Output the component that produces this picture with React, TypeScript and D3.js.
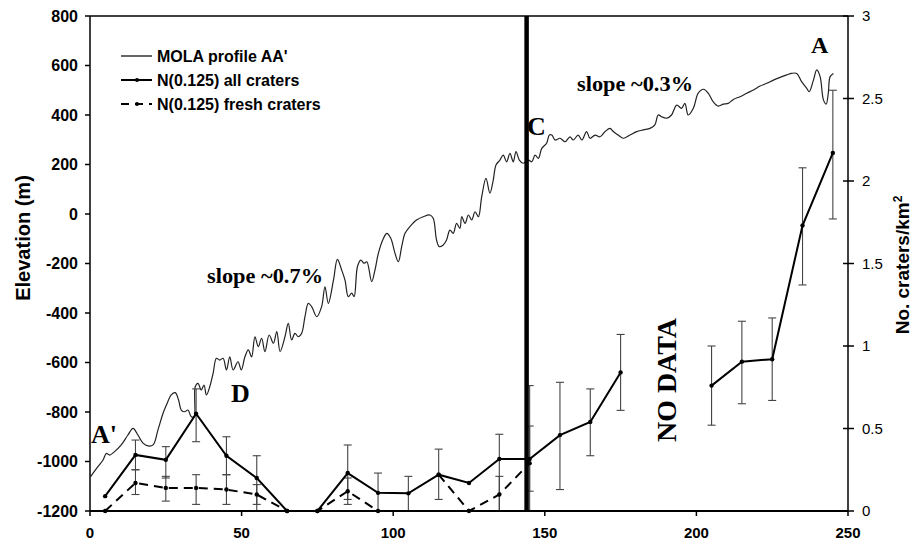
import React from 'react';
import * as d3 from 'd3';

// MOLA elevation profile AA' (distance km, elevation m)
const profileKm: number[] = [
  0.2, 2.6, 4.3, 5.4, 6.5, 8.1, 10.3, 12.5, 14.2, 15.8, 17.5, 19.1, 20.8, 22.4, 24.1, 25.2,
  26.8, 28.1, 29.2, 30.1, 31.2, 32.3, 33.4, 34.3, 34.7, 35.6, 36.7, 37.6, 38.4, 39.5, 40.6,
  41.7, 42.8, 43.9, 45.0, 46.1, 47.2, 48.8, 49.9, 51.1, 52.2, 53.3, 54.4, 55.5, 56.6, 57.7,
  59.1, 60.5, 61.6, 62.7, 64.3, 65.4, 66.5, 67.6, 68.7, 69.8, 70.9, 72.0, 73.1, 74.8, 76.4,
  77.5, 78.6, 80.3, 81.6, 83.0, 84.1, 85.2, 86.3, 87.1, 88.2, 89.3, 90.4, 91.3, 92.9, 94.0,
  95.1, 96.8, 97.9, 99.2, 100.6, 101.7, 102.8, 103.9, 105.5, 107.7, 109.9, 112.1, 113.2,
  114.3, 115.2, 116.5, 117.6, 118.7, 119.8, 120.9, 122.0, 122.6, 123.7, 124.8, 125.9, 127.0,
  128.1, 129.2, 130.6, 131.9, 133.0, 133.9, 135.2, 136.3, 137.4, 138.5, 139.6, 140.5, 141.6,
  142.9, 144.6, 145.7, 146.8, 147.9, 149.0, 150.6, 151.5, 152.3, 153.4, 155.0, 156.7, 158.3,
  159.4, 161.0, 162.2, 163.8, 164.9, 166.6, 168.2, 169.9, 171.5, 172.6, 174.2, 175.9, 178.1,
  180.3, 182.5, 184.7, 186.3, 187.4, 188.5, 190.2, 191.8, 193.5, 195.1, 196.2, 197.3, 199.0,
  200.6, 202.4, 203.9, 205.5, 207.2, 208.9, 210.5, 212.2, 214.4, 216.6, 218.8, 221.0, 223.2,
  225.4, 227.6, 229.8, 231.4, 233.1, 234.7, 236.4, 237.2, 238.6, 239.7, 240.8, 241.9, 242.8,
  243.5, 244.1, 245.2,
];
const profileElev: number[] = [
  -1061, -1021, -994, -967, -974, -960, -933, -893, -866, -893, -926, -937, -933, -873, -805, -772,
  -731, -722, -751, -792, -799, -792, -819, -819, -698, -684, -711, -691, -731, -698, -644,
  -583, -590, -583, -630, -577, -630, -597, -630, -577, -549, -577, -496, -536, -502, -556,
  -489, -522, -475, -556, -496, -442, -509, -482, -496, -482, -415, -361, -374, -415, -374,
  -294, -361, -267, -183, -226, -267, -334, -320, -334, -213, -186, -199, -193, -273, -226,
  -159, -98, -78, -98, -159, -193, -132, -78, -51, -24, -11, -4, -17,
  -105, -132, -125, -105, -65, -78, -38, -58, -11, -38, -4, -24, 9,
  -11, 70, 144, 84, 137, 198, 218, 238, 211, 245, 211, 252, 218,
  205, 218, 211, 238, 225, 265, 286, 319, 319, 299, 306, 292, 312,
  299, 319, 299, 333, 306, 319, 312, 333, 346, 333, 319, 306, 319,
  333, 340, 346, 360, 400, 393, 387, 400, 440, 427, 447, 400, 427,
  488, 504, 488, 454, 436, 444, 447, 463, 474, 488, 501, 517, 528,
  541, 552, 562, 568, 568, 535, 508, 494, 541, 582, 555, 461, 444,
  488, 555, 568,
];

// crater densities N(0.125), craters/km^2 (null = no data)
const craterKm: number[] = [5, 15, 25, 35, 45, 55, 65, 75, 85, 95, 105, 115, 125, 135, 145, 155, 165, 175, 185, 195, 205, 215, 225, 235, 245];
const allN: (number | null)[] = [0.09, 0.34, 0.31, 0.59, 0.335, 0.2, 0, 0, 0.23, 0.11, 0.107, 0.22, 0.17, 0.315, 0.315, 0.46, 0.54, 0.84, null, null, 0.76, 0.905, 0.92, 1.73, 2.17];
const allLo: (number | null)[] = [null, 0.25, 0.2, 0.42, 0.22, 0, null, null, 0.07, 0, 0, 0.07, null, 0, 0, 0.13, 0.335, 0.61, null, null, 0.52, 0.65, 0.67, 1.37, 1.77];
const allHi: (number | null)[] = [null, 0.43, 0.39, 0.74, 0.45, 0.335, null, null, 0.4, 0.23, 0.21, 0.375, null, 0.465, 0.76, 0.78, 0.74, 1.07, null, null, 1.0, 1.15, 1.17, 2.08, 2.55];
const freshN: (number | null)[] = [0, 0.17, 0.14, 0.14, 0.13, 0.1, 0, 0, 0.12, 0, null, 0.22, 0, 0.1, 0.29, null, null, null, null, null, null, null, null, null, null];
const freshLo: (number | null)[] = [null, 0.1, 0.06, 0.04, 0.04, 0.04, null, null, 0.04, null, null, null, null, 0, 0.12, null, null, null, null, null, null, null, null, null, null];
const freshHi: (number | null)[] = [null, 0.25, 0.21, 0.22, 0.22, 0.16, null, null, 0.2, null, null, null, null, 0.21, 0.515, null, null, null, null, null, null, null, null, null, null];

const kmTicks = [0, 50, 100, 150, 200, 250];
const elevTicks = [-1200, -1000, -800, -600, -400, -200, 0, 200, 400, 600, 800];
const densTicks = [0, 0.5, 1, 1.5, 2, 2.5, 3];
const pointC = 144;

const W = 915;
const H = 541;
const m = { left: 90, right: 848, top: 16, bottom: 511 };
const sans = "'Liberation Sans', Arial, sans-serif";
const serif = "'Liberation Serif', 'Times New Roman', serif";

const App: React.FC = () => {
  const x = d3.scaleLinear().domain([0, 250]).range([m.left, m.right]);
  const yE = d3.scaleLinear().domain([-1200, 800]).range([m.bottom, m.top]);
  const yN = d3.scaleLinear().domain([0, 3]).range([m.bottom, m.top]);

  const profileLine = d3.line<number>()
    .x((_, i) => x(profileKm[i]))
    .y(d => yE(d))
    .curve(d3.curveCatmullRom.alpha(0.5));

  const densLine = d3.line<number | null>()
    .defined(d => d !== null)
    .x((_, i) => x(craterKm[i]))
    .y(d => yN(d as number));

  const errBars = (lo: (number | null)[], hi: (number | null)[], key: string) =>
    craterKm.map((k, i) => {
      const a = lo[i];
      const b = hi[i];
      if (a === null || b === null) return null;
      const cx = x(k);
      return (
        <g key={key + i} stroke="#444" strokeWidth={1.1}>
          <line x1={cx} x2={cx} y1={yN(a)} y2={yN(b)} />
          <line x1={cx - 4} x2={cx + 4} y1={yN(a)} y2={yN(a)} />
          <line x1={cx - 4} x2={cx + 4} y1={yN(b)} y2={yN(b)} />
        </g>
      );
    });

  const dots = (vals: (number | null)[], key: string) =>
    craterKm.map((k, i) =>
      vals[i] === null ? null : <circle key={key + i} cx={x(k)} cy={yN(vals[i] as number)} r={2.2} fill="#000" />
    );

  return (
    <svg width={W} height={H} style={{ position: 'absolute', left: 0, top: 0, background: '#fff' }}>
      <rect width={W} height={H} fill="#fff" />

      {/* profile */}
      <path d={profileLine(profileElev) || ''} fill="none" stroke="#222" strokeWidth={1.2} />

      {/* error bars */}
      {errBars(freshLo, freshHi, 'fe')}
      {errBars(allLo, allHi, 'ae')}

      {/* crater density series */}
      <path d={densLine(freshN) || ''} fill="none" stroke="#000" strokeWidth={2} strokeDasharray="9,6" />
      <path d={densLine(allN) || ''} fill="none" stroke="#000" strokeWidth={2} />
      {dots(freshN, 'fd')}
      {dots(allN, 'ad')}

      {/* point C marker */}
      <line x1={x(pointC)} x2={x(pointC)} y1={m.top} y2={m.bottom} stroke="#000" strokeWidth={4.5} />

      {/* frame and axes */}
      <line x1={m.left} x2={m.right} y1={m.top} y2={m.top} stroke="#000" strokeWidth={1.5} />
      <line x1={m.left} x2={m.left} y1={m.top} y2={m.bottom} stroke="#000" strokeWidth={1.5} />
      <line x1={m.right} x2={m.right} y1={m.top} y2={m.bottom} stroke="#000" strokeWidth={1.5} />
      <line x1={m.left} x2={m.right} y1={m.bottom} y2={m.bottom} stroke="#000" strokeWidth={2} />

      {elevTicks.map(t => (
        <g key={'e' + t}>
          <line x1={m.left - 5} x2={m.left} y1={yE(t)} y2={yE(t)} stroke="#000" strokeWidth={1.5} />
          <text x={78} y={yE(t)} dy="0.35em" textAnchor="end" fontFamily={sans} fontWeight="bold" fontSize={16}>{t}</text>
        </g>
      ))}
      {kmTicks.map(t => (
        <g key={'k' + t}>
          <line x1={x(t)} x2={x(t)} y1={m.bottom} y2={m.bottom + 5} stroke="#000" strokeWidth={1.5} />
          <text x={x(t)} y={538} textAnchor="middle" fontFamily={sans} fontWeight="bold" fontSize={15}>{t}</text>
        </g>
      ))}
      {densTicks.map(t => (
        <g key={'n' + t}>
          <line x1={m.right - 5} x2={m.right + 6} y1={yN(t)} y2={yN(t)} stroke="#000" strokeWidth={1.5} />
          <text x={862} y={yN(t)} dy="0.35em" fontFamily={sans} fontSize={15}>{t}</text>
        </g>
      ))}

      <text transform="translate(30,238) rotate(-90)" textAnchor="middle" fontFamily={sans} fontWeight="bold" fontSize={20}>Elevation (m)</text>
      <text transform="translate(909,265) rotate(-90)" textAnchor="middle" fontFamily={sans} fontWeight="bold" fontSize={19}>
        No. craters/km<tspan dy={-7} fontSize={12}>2</tspan>
      </text>

      {/* legend */}
      <g fontFamily={sans} fontWeight="bold" fontSize={16}>
        <line x1={121} x2={152} y1={56} y2={56} stroke="#000" strokeWidth={1.2} />
        <text x={157} y={56} dy="0.35em">MOLA profile AA'</text>
        <line x1={121} x2={152} y1={80} y2={80} stroke="#000" strokeWidth={2} />
        <circle cx={137} cy={80} r={2} />
        <text x={157} y={80} dy="0.35em">N(0.125) all craters</text>
        <line x1={121} x2={152} y1={104} y2={104} stroke="#000" strokeWidth={2} strokeDasharray="8,6" />
        <circle cx={137} cy={104} r={2} />
        <text x={157} y={104} dy="0.35em">N(0.125) fresh craters</text>
      </g>

      {/* annotations */}
      <g fontFamily={serif} fontWeight="bold">
        <text x={91} y={443} fontSize={26}>A'</text>
        <text x={231} y={402} fontSize={26}>D</text>
        <text x={527} y={135} fontSize={26}>C</text>
        <text x={811} y={53} fontSize={24}>A</text>
        <text x={207} y={283} fontSize={20} textLength={116} lengthAdjust="spacingAndGlyphs">slope ~0.7%</text>
        <text x={577} y={91} fontSize={20} textLength={116} lengthAdjust="spacingAndGlyphs">slope ~0.3%</text>
        <text transform="translate(676,380) rotate(-90)" textAnchor="middle" fontSize={28} textLength={124} lengthAdjust="spacingAndGlyphs">NO DATA</text>
      </g>
    </svg>
  );
};

export default App;
